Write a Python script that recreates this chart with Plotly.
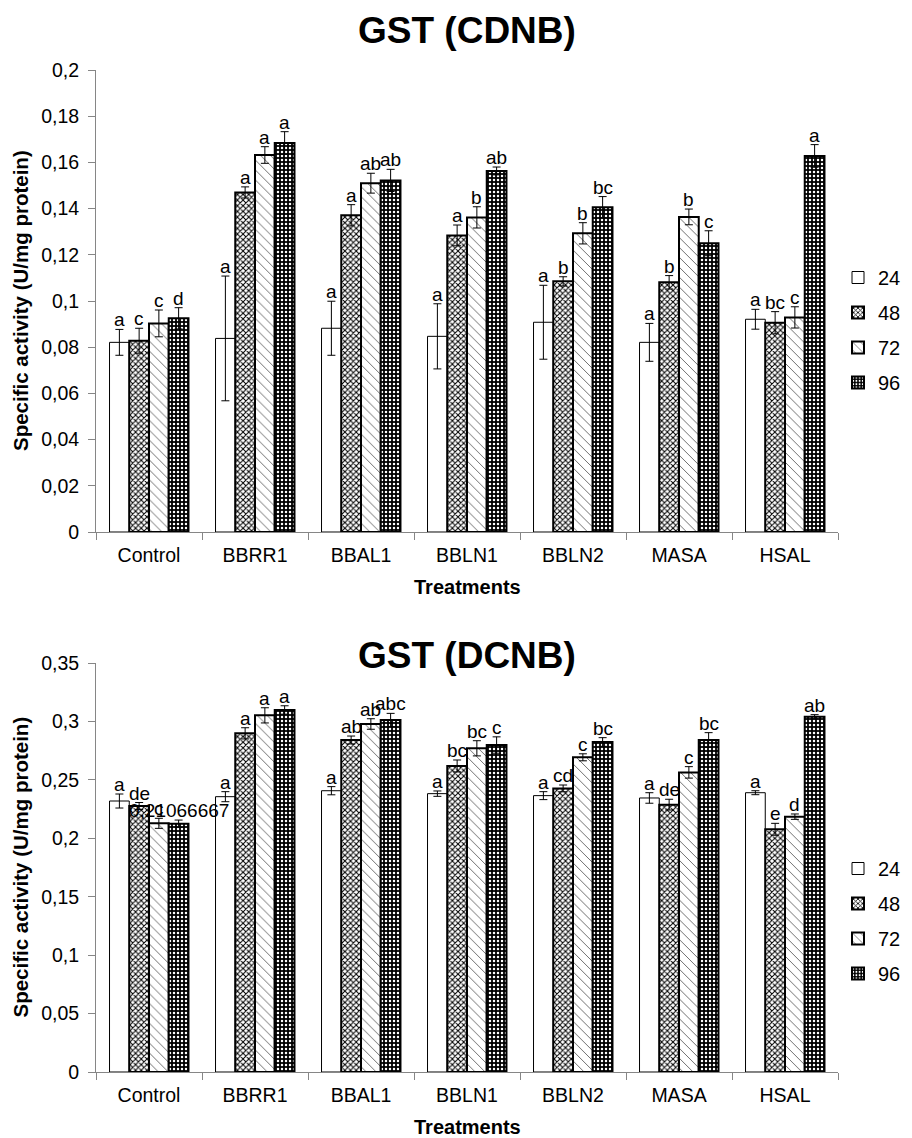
import plotly.graph_objects as go

# ---------------- data ----------------
categories = ["Control", "BBRR1", "BBAL1", "BBLN1", "BBLN2", "MASA", "HSAL"]
series_names = ["24", "48", "72", "96"]

# GST (CDNB)
cdnb_24 = [0.0821, 0.0838, 0.0882, 0.0847, 0.0908, 0.0821, 0.0921]
cdnb_48 = [0.0828, 0.1470, 0.1371, 0.1284, 0.1085, 0.1081, 0.0906]
cdnb_72 = [0.0903, 0.1632, 0.1510, 0.1362, 0.1293, 0.1364, 0.0929]
cdnb_96 = [0.0925, 0.1684, 0.1522, 0.1563, 0.1406, 0.1250, 0.1628]
cdnb_24_err = [0.0056, 0.0270, 0.0117, 0.0141, 0.0160, 0.0082, 0.0043]
cdnb_48_err = [0.0054, 0.0024, 0.0046, 0.0045, 0.0020, 0.0029, 0.0048]
cdnb_72_err = [0.0058, 0.0036, 0.0043, 0.0046, 0.0046, 0.0034, 0.0046]
cdnb_96_err = [0.0046, 0.0049, 0.0048, 0.0017, 0.0046, 0.0054, 0.0049]
cdnb_24_lbl = ["a", "a", "a", "a", "a", "a", "a"]
cdnb_48_lbl = ["c", "a", "a", "a", "b", "b", "bc"]
cdnb_72_lbl = ["c", "a", "ab", "b", "b", "b", "c"]
cdnb_96_lbl = ["d", "a", "ab", "ab", "bc", "c", "a"]

# GST (DCNB)
dcnb_24 = [0.2319, 0.2356, 0.2407, 0.2382, 0.2365, 0.2345, 0.2390]
dcnb_48 = [0.2276, 0.2898, 0.2841, 0.2619, 0.2427, 0.2288, 0.2077]
dcnb_72 = [0.2128, 0.3052, 0.2978, 0.2770, 0.2693, 0.2564, 0.2185]
dcnb_96 = [0.2125, 0.3098, 0.3012, 0.2798, 0.2824, 0.2841, 0.3040]
dcnb_24_err = [0.0060, 0.0043, 0.0035, 0.0023, 0.0034, 0.0045, 0.0017]
dcnb_48_err = [0.0030, 0.0048, 0.0034, 0.0051, 0.0029, 0.0046, 0.0051]
dcnb_72_err = [0.0043, 0.0065, 0.0045, 0.0065, 0.0030, 0.0049, 0.0023]
dcnb_96_err = [0.0031, 0.0036, 0.0057, 0.0070, 0.0037, 0.0063, 0.0018]
dcnb_24_lbl = ["a", "a", "a", "a", "a", "a", "a"]
dcnb_48_lbl = ["de", "a", "ab", "bc", "cd", "de", "e"]
dcnb_72_lbl = ["c", "a", "ab", "bc", "c", "c", "d"]
dcnb_96_lbl = ["0,21066667", "a", "abc", "c", "bc", "bc", "ab"]

cdnb_ticks = [0, 0.02, 0.04, 0.06, 0.08, 0.1, 0.12, 0.14, 0.16, 0.18, 0.2]
dcnb_ticks = [0, 0.05, 0.1, 0.15, 0.2, 0.25, 0.3, 0.35]

# ---------------- layout constants ----------------
W, H = 912, 1138
FONT = "Liberation Sans, Arial, sans-serif"
X0, X1 = 96, 838           # plot area horizontal px
TOP = (70, 532)            # top plot y px (top, bottom)
BOT = (663, 1072)          # bottom plot y px
BARGAP = 0.255
cat_px = (X1 - X0) / len(categories)
bar_px = cat_px * (1 - BARGAP) / len(series_names)


def py(px):
    return (H - px) / H


styles = [
    dict(color="white", line=dict(color="black", width=1),
         pattern=dict(shape="")),
    dict(color="white", line=dict(color="black", width=2),
         pattern=dict(shape="x", bgcolor="white", fgcolor="black", size=4, solidity=0.45)),
    dict(color="white", line=dict(color="black", width=2),
         pattern=dict(shape="\\", bgcolor="white", fgcolor="#555555", size=7, solidity=0.12)),
    dict(color="black", line=dict(color="black", width=2),
         pattern=dict(shape=".", bgcolor="black", fgcolor="white", size=4, solidity=0.3)),
]

fig = go.Figure()
annotations = []

panels = [
    dict(vals=[cdnb_24, cdnb_48, cdnb_72, cdnb_96],
         errs=[cdnb_24_err, cdnb_48_err, cdnb_72_err, cdnb_96_err],
         lbls=[cdnb_24_lbl, cdnb_48_lbl, cdnb_72_lbl, cdnb_96_lbl],
         ticks=cdnb_ticks, px=TOP, title="GST (CDNB)", title_y=30,
         xa="x", ya="y", legend="legend", legend_y=330),
    dict(vals=[dcnb_24, dcnb_48, dcnb_72, dcnb_96],
         errs=[dcnb_24_err, dcnb_48_err, dcnb_72_err, dcnb_96_err],
         lbls=[dcnb_24_lbl, dcnb_48_lbl, dcnb_72_lbl, dcnb_96_lbl],
         ticks=dcnb_ticks, px=BOT, title="GST (DCNB)", title_y=655,
         xa="x2", ya="y2", legend="legend2", legend_y=921),
]

for p in panels:
    for j, name in enumerate(series_names):
        st = styles[j]
        fig.add_trace(go.Bar(
            x=categories, y=p["vals"][j], name=name,
            xaxis=p["xa"], yaxis=p["ya"], legend=p["legend"],
            legendgroup=p["legend"] + name,
            marker=dict(color=st["color"], line=st["line"], pattern=st["pattern"]),
            error_y=dict(type="data", array=p["errs"][j], visible=True,
                         color="black", thickness=1, width=4),
        ))
        shift = (j - (len(series_names) - 1) / 2) * bar_px
        for i, c in enumerate(categories):
            annotations.append(dict(
                x=c, y=p["vals"][j][i] + p["errs"][j][i],
                xref=p["xa"], yref=p["ya"], text=p["lbls"][j][i],
                showarrow=False, xanchor="center", yanchor="bottom",
                xshift=shift, yshift=-3,
                font=dict(family=FONT, size=19, color="black"),
            ))
    top_px, bot_px = p["px"]
    # chart title
    annotations.append(dict(
        x=(X0 + X1) / 2 / W, y=py(p["title_y"]), xref="paper", yref="paper",
        text="<b>" + p["title"] + "</b>", showarrow=False,
        xanchor="center", yanchor="middle",
        font=dict(family=FONT, size=37, color="black")))
    # y title
    annotations.append(dict(
        x=20 / W, y=py((top_px + bot_px) / 2), xref="paper", yref="paper",
        text="<b>Specific activity (U/mg protein)</b>", showarrow=False,
        textangle=-90, xanchor="center", yanchor="middle",
        font=dict(family=FONT, size=20.5, color="black")))
    # x title
    annotations.append(dict(
        x=(X0 + X1) / 2 / W, y=py(bot_px + 55), xref="paper", yref="paper",
        text="<b>Treatments</b>", showarrow=False,
        xanchor="center", yanchor="middle",
        font=dict(family=FONT, size=20, color="black")))

axis_common = dict(showline=True, linecolor="#868686", linewidth=1,
                   ticks="outside", tickcolor="#868686", ticklen=7,
                   showgrid=False, zeroline=False, automargin=False,
                   tickfont=dict(family=FONT, size=19.5, color="black"))

fig.update_layout(
    template="none",
    width=W, height=H,
    margin=dict(l=0, r=0, t=0, b=0, pad=0, autoexpand=False),
    paper_bgcolor="white", plot_bgcolor="white",
    separators=", ",
    barmode="group", bargap=BARGAP, bargroupgap=0,
    font=dict(family=FONT, color="black"),
    xaxis=dict(domain=[X0 / W, X1 / W], anchor="y", tickson="boundaries",
               ticklabelstandoff=6, **axis_common),
    yaxis=dict(domain=[py(TOP[1]), py(TOP[0])], anchor="x",
               range=[0, cdnb_ticks[-1]], tickvals=cdnb_ticks,
               ticklabelstandoff=5, **axis_common),
    xaxis2=dict(domain=[X0 / W, X1 / W], anchor="y2", tickson="boundaries",
                ticklabelstandoff=6, **axis_common),
    yaxis2=dict(domain=[py(BOT[1]), py(BOT[0])], anchor="x2",
                range=[0, dcnb_ticks[-1]], tickvals=dcnb_ticks,
                ticklabelstandoff=5, **axis_common),
    legend=dict(x=X1 / W, y=py(panels[0]["legend_y"]), xanchor="left", yanchor="middle",
                font=dict(family=FONT, size=20), tracegroupgap=6,
                bgcolor="rgba(0,0,0,0)"),
    legend2=dict(x=X1 / W, y=py(panels[1]["legend_y"]), xanchor="left", yanchor="middle",
                 font=dict(family=FONT, size=20), tracegroupgap=6,
                 bgcolor="rgba(0,0,0,0)"),
    annotations=annotations,
)

fig.write_html(
    "out.html",
    config={"displayModeBar": False},
    post_script="document.body.style.margin='0';document.body.style.overflow='hidden';",
)
